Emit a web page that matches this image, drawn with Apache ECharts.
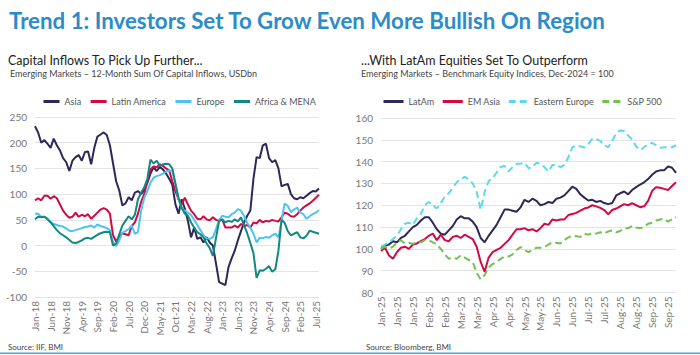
<!DOCTYPE html>
<html>
<head>
<meta charset="utf-8">
<script src="https://cdn.jsdelivr.net/npm/echarts@6/dist/echarts.min.js"></script>
<style>
  html, body { margin: 0; padding: 0; background: #ffffff; }
  #chart { width: 700px; height: 355px; }
</style>
</head>
<body>
<div id="chart"></div>
<script>
// ---------- Left chart: monthly, Jan-18 .. Aug-25 (92 points) ----------
const leftTickLabels = ['Jan-18','Jun-18','Nov-18','Apr-19','Sep-19','Feb-20','Jul-20','Dec-20','May-21','Oct-21','Mar-22','Aug-22','Jan-23','Jun-23','Nov-23','Apr-24','Sep-24','Feb-25','Jul-25'];
const asia = [232,220,200,205,198,190,208,195,185,170,162,145,165,172,176,165,182,183,158,190,212,216,220,215,195,160,125,107,78,82,94,88,103,106,100,108,122,140,152,145,153,148,140,130,118,80,62,90,72,48,16,35,13,16,6,16,6,0,-35,-71,-74,-77,-42,-25,-10,10,28,45,58,68,130,172,170,195,198,170,162,166,150,115,118,120,100,92,90,94,92,97,102,106,105,111];
const latinAmerica = [88,92,88,97,97,91,96,92,80,68,60,54,56,64,56,60,57,61,52,58,64,70,73,70,62,20,8,18,24,22,20,38,45,62,85,100,125,148,154,152,158,155,150,146,125,106,90,80,93,80,68,61,52,51,57,51,49,55,50,48,51,35,35,35,39,35,42,38,40,35,45,43,50,45,48,47,50,48,47,55,64,62,57,56,61,68,74,78,82,87,93,99];
const europe = [62,62,56,56,53,46,42,40,38,37,33,29,28,30,32,34,36,37,39,35,41,38,36,34,30,6,-1,10,25,28,32,39,23,26,68,93,106,122,132,135,137,140,144,146,145,120,90,72,68,64,60,50,40,30,20,14,13,16,32,50,58,56,55,61,64,71,68,57,44,35,23,6,15,14,17,15,20,23,16,48,82,77,65,70,74,64,61,52,57,61,64,69];
const africaMena = [51,56,55,56,51,45,38,30,24,20,16,11,6,5,7,10,14,15,13,17,21,24,26,27,26,0,4,22,39,48,57,51,60,90,103,113,130,167,160,165,155,158,159,158,150,120,93,74,62,58,45,35,26,22,16,4,-5,-20,15,48,51,45,48,46,51,47,55,39,24,5,-15,-63,-48,-49,-45,-40,-51,-46,-10,50,44,28,20,23,26,16,14,19,29,27,25,23];

// ---------- Right chart: Jan-25 .. Sep-25 (75 points) ----------
const rightTickLabels = ['Jan-25','Jan-25','Jan-25','Feb-25','Feb-25','Mar-25','Mar-25','Apr-25','Apr-25','May-25','May-25','Jun-25','Jun-25','Jul-25','Jul-25','Aug-25','Aug-25','Sep-25','Sep-25'];
const latAm = [100,101.5,102,103.5,103,105,106,108,110,111,113,114.5,114.5,112,109,107,106.5,108.5,110.5,113.5,115,114,114,112.5,110,105,103,106,108.5,111,114.5,118,118,117.5,117,119,122.5,121.5,123,122,120,120.5,121.5,121,123,123.5,124.5,126.5,128.5,127.5,125,123.5,122.2,122.5,121.5,122,121,120.5,121,124.5,125.5,126.3,125,127,128.3,129.5,130.5,132,134,135.5,136,136,137.8,137.2,134.8];
const emAsia = [99,100.5,97,95.5,98.5,100.5,101,100,102,102.5,103.5,104.5,106,107,104,106.5,104,103.5,105.5,106,105,106.5,105.5,104.5,101,94,89.5,96,98.5,99.5,100.5,102.3,104,106.5,109,109,109.5,108.5,109,108,109.5,111.5,111,113.5,113,113.5,113.5,115.5,116,116.5,117.5,118.5,119,120,119.5,118.8,117.8,115.8,117.8,118.5,119.5,120.5,120,121,120,119.1,119.5,122,126.5,128.3,128,127.5,127,128.8,130.5];
const easternEurope = [101,102,103,104.5,106,109,111.5,112,111,114,116,120,121.5,120,118.5,121,124,125.5,128,130.5,132,133,132,130,126,118,126,131,132.5,135,137.5,138,135.5,137.5,139,139,139.5,137,137.5,139.5,139,137.5,135.5,138.5,138.5,137.5,138.5,142,146.5,147.5,147,146.5,148,150.5,150.4,149.5,147.5,146.6,149.5,153,154.3,154,152,150,147,145.2,146.6,148,148.6,147.5,146.3,146.6,146.6,146.6,147.5];
const sp500 = [100,101,100,101,103,104,102.5,102.8,102.3,103,103,104,104,103,102,100,97.5,95.5,96,95.5,97,96,95,94,89,86,88,91.5,93,94,95.4,96.5,96.5,97.5,99.5,100.8,99.5,98.5,99.5,100.5,100.5,100.8,102,103,102.8,102.5,104,105.3,106,105.8,105.5,106.9,106.5,107.3,107,107.6,107,108,108.4,107.6,108.2,109.5,109.5,110.5,109.8,109.5,110,111.5,112,113,113.5,113.8,112.5,113.5,114.5];

const leftCats = asia.map((_, i) => i);
const rightCats = latAm.map((_, i) => i);

const FONT = 'Lato, "Open Sans", sans-serif';
const AXIS_COLOR = '#777';
const GRID_COLOR = '#e4e4e4';

const chart = echarts.init(document.getElementById('chart'), null, { renderer: 'svg' });

function line(name, data, color, xi, dashed) {
  return {
    name, type: 'line', data, xAxisIndex: xi, yAxisIndex: xi,
    symbol: 'none', smooth: false,
    lineStyle: { color, width: 2, type: dashed ? [7, 4] : 'solid' },
    itemStyle: { color },
    emphasis: { disabled: true },
    animation: false
  };
}

function titleText(text, left, top, size, color, weight) {
  return { text, left, top, padding: 0,
    textStyle: { color, fontSize: size, fontWeight: weight || 'normal', fontFamily: FONT } };
}

chart.setOption({
  backgroundColor: '#ffffff',
  animation: false,
  textStyle: { fontFamily: FONT },
  title: [
    titleText('Trend 1: Investors Set To Grow Even More Bullish On Region', 9, 9, 22.3, '#2b8cc8', 'bold'),
    titleText('Capital Inflows To Pick Up Further...', 8, 54, 12.5, '#222'),
    titleText('Emerging Markets \u2013 12-Month Sum Of Capital Inflows, USDbn', 10, 69, 9, '#444'),
    titleText('...With LatAm Equities Set To Outperform', 361, 54, 12.5, '#222'),
    titleText('Emerging Markets \u2013 Benchmark Equity Indices, Dec-2024 = 100', 361, 69, 9, '#444'),
    titleText('Source: IIF, BMI', 8, 343, 8, '#444'),
    titleText('Source: Bloomberg, BMI', 366, 343, 8, '#444')
  ],
  legend: [
    { data: ['Asia', 'Latin America', 'Europe', 'Africa & MENA'], left: 37, top: 92, width: 320,
      itemWidth: 16, itemHeight: 8, itemGap: 8,
      itemStyle: { opacity: 0 }, lineStyle: { width: 3 },
      textStyle: { color: '#555', fontSize: 9, fontFamily: FONT } },
    { data: ['LatAm', 'EM Asia', 'Eastern Europe', 'S&P 500'], left: 377, top: 92, width: 323,
      itemWidth: 20, itemHeight: 8, itemGap: 7,
      itemStyle: { opacity: 0 }, lineStyle: { width: 3 },
      textStyle: { color: '#555', fontSize: 9, fontFamily: FONT } }
  ],
  graphic: [
    { type: 'rect', shape: { x: 0, y: 352.5, width: 700, height: 1.5 }, style: { fill: '#4aa6dd' }, silent: true }
  ],
  grid: [
    { left: 35, right: 381, top: 117, height: 180 },
    { left: 381, right: 24, top: 118, height: 174.5 }
  ],
  xAxis: [
    { type: 'category', gridIndex: 0, data: leftCats, boundaryGap: false,
      axisLine: { show: false }, axisTick: { show: false },
      axisLabel: { interval: 4, rotate: 90, margin: 4, color: AXIS_COLOR, fontSize: 10, fontFamily: FONT,
        formatter: (v, idx) => leftTickLabels[idx / 5] || '' } },
    { type: 'category', gridIndex: 1, data: rightCats, boundaryGap: false,
      axisLine: { show: false }, axisTick: { show: false },
      axisLabel: { interval: 3, rotate: 90, margin: 4, color: AXIS_COLOR, fontSize: 10, fontFamily: FONT,
        formatter: (v, idx) => rightTickLabels[idx / 4] || '' } }
  ],
  yAxis: [
    { type: 'value', gridIndex: 0, min: -100, max: 250, interval: 50,
      axisLine: { show: false }, axisTick: { show: false },
      axisLabel: { color: AXIS_COLOR, fontSize: 10, margin: 8, fontFamily: FONT },
      splitLine: { lineStyle: { color: GRID_COLOR, width: 1 } } },
    { type: 'value', gridIndex: 1, min: 80, max: 160, interval: 10,
      axisLine: { show: false }, axisTick: { show: false },
      axisLabel: { color: AXIS_COLOR, fontSize: 10, margin: 8, fontFamily: FONT },
      splitLine: { lineStyle: { color: GRID_COLOR, width: 1 } } }
  ],
  series: [
    line('Asia', asia, '#2e2758', 0),
    line('Latin America', latinAmerica, '#d20a44', 0),
    line('Europe', europe, '#4cc4f0', 0),
    line('Africa & MENA', africaMena, '#118983', 0),
    line('LatAm', latAm, '#2e2758', 1),
    line('EM Asia', emAsia, '#d20a44', 1),
    line('Eastern Europe', easternEurope, '#5dd9ec', 1, true),
    line('S&P 500', sp500, '#72c153', 1, true)
  ]
});
</script>
</body>
</html>
